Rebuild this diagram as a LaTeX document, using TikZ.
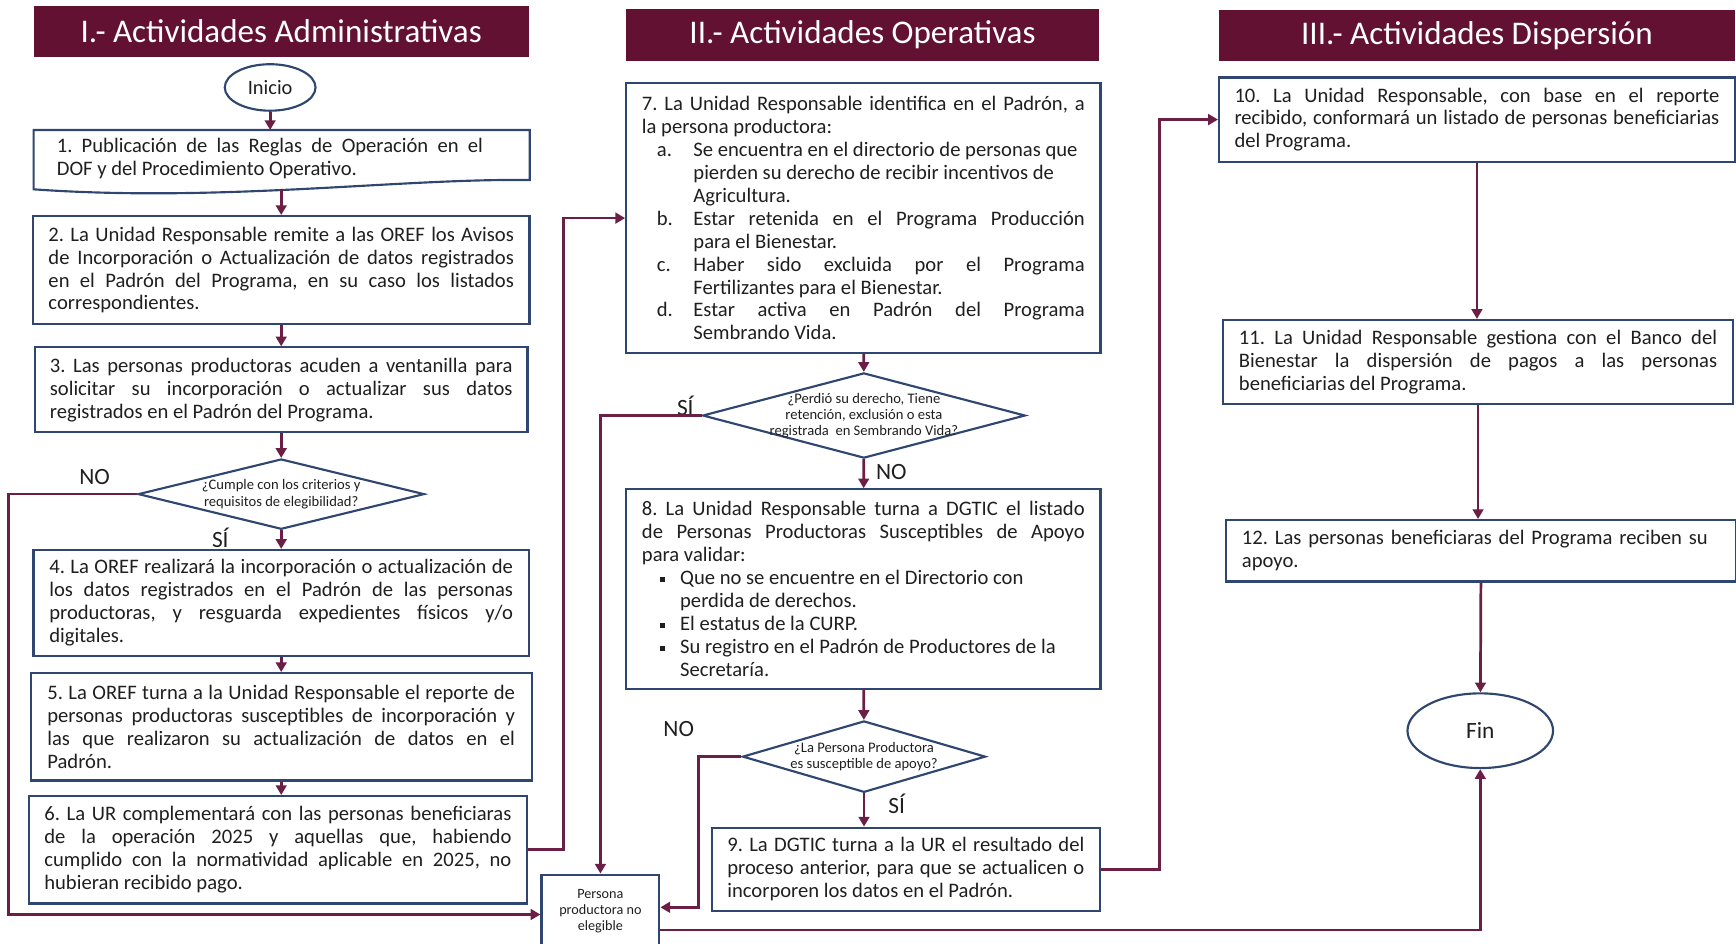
\documentclass[tikz,border=0pt]{standalone}
\usepackage{fontspec}
\setmainfont{Carlito}
\usetikzlibrary{arrows.meta,shapes.geometric}
\definecolor{guinda}{RGB}{98,17,50}
\definecolor{vino}{RGB}{107,31,69}
\definecolor{azul}{RGB}{47,71,112}
\newcommand{\inciso}[1]{\par\noindent\hangindent=0.93cm\hangafter=1\makebox[0.93cm][l]{\hspace{0.27cm}#1}}
\newcommand{\vineta}{\par\noindent\hangindent=0.69cm\hangafter=1\makebox[0.69cm][l]{\hspace{0.33cm}\rule[1.4pt]{2.6pt}{2.6pt}}}
\hyphenpenalty=10000
\frenchspacing
\begin{document}
\begin{tikzpicture}[x=0.02cm,y=-0.02cm,
    titulo/.style={fill=guinda,text=white,minimum height=0.93cm,font=\fontsize{17}{19}\selectfont},
    caja/.style={draw=azul,line width=1.1pt,align=justify,text=black!88,font=\fontsize{10.6}{11.8}\selectfont},
    decision/.style={draw=azul,line width=1.1pt,diamond,inner sep=0pt},
    dtexto/.style={align=center,text=black!88,font=\fontsize{7.5}{8.3}\selectfont},
    inifin/.style={draw=azul,line width=1.1pt,ellipse,inner sep=0pt,text=black!88},
    rotulo/.style={text=black!88,font=\fontsize{12}{14}\selectfont},
    flecha/.style={draw=vino,line width=1.4pt,-{Triangle[length=5pt,width=5.5pt]}}]
            \useasboundingbox(0,0)rectangle(1568,852);
            \node[titulo,minimum width=8.95cm](t1)at(254,28.5){I.- Actividades Administrativas};
            \node[titulo,minimum width=8.55cm](t2)at(779,31.7){II.- Actividades Operativas};
            \node[titulo,minimum width=9.32cm](t3)at(1334,32){III.- Actividades Dispersión};
            \node[inifin,minimum width=1.64cm,minimum height=0.84cm,font=\fontsize{10.5}{12}\selectfont](ini)at(244,79){Inicio};
            \node[caja,draw=none,text width=7.7cm](1)at(243.8,143){1. Publicación de las Reglas de Operación en el\linebreak DOF y del Procedimiento Operativo.};
            \draw[draw=azul,line width=1.1pt](30.4,117.4)--(478.5,117.4)--(478.5,162.6) .. controls (360,161) and (200,183) .. (30.4,171)--cycle;
            \coordinate(1n)at(244,117.4);
            \coordinate(1s)at(254,170.5);
            \node[caja,minimum width=8.97cm,minimum height=1.95cm,text width=8.41cm](2)at(254,243.9){2. La Unidad Responsable remite a las OREF los Avisos\linebreak de Incorporación o Actualización de datos registrados\linebreak en el Padrón del Programa, en su caso los listados\linebreak correspondientes.};
            \node[caja,minimum width=8.9cm,minimum height=1.53cm,text width=8.36cm](3)at(254,352){3. Las personas productoras acuden a ventanilla para\linebreak solicitar su incorporación o actualizar sus datos\linebreak registrados en el Padrón del Programa.};
            \node[decision,minimum width=5.17cm,minimum height=1.27cm,label={[dtexto]center:{¿Cumple con los criterios y\\requisitos de elegibilidad?}}](d1)at(254,446.3){};
            \node[caja,minimum width=8.95cm,minimum height=1.91cm,text width=8.38cm](4)at(254,544.5){4. La OREF realizará la incorporación o actualización de\linebreak los datos registrados en el Padrón de las personas\linebreak productoras, y resguarda expedientes físicos y/o\linebreak digitales.};
            \node[caja,minimum width=9.05cm,minimum height=1.94cm,text width=8.45cm](5)at(254,656.5){5. La OREF turna a la Unidad Responsable el reporte de\linebreak personas productoras susceptibles de incorporación y\linebreak las que realizaron su actualización de datos en el\linebreak Padrón.};
            \node[caja,minimum width=9.0cm,minimum height=1.94cm,text width=8.44cm](6)at(251,767.5){6. La UR complementará con las personas beneficiaras\linebreak de la operación 2025 y aquellas que, habiendo\linebreak cumplido con la normatividad aplicable en 2025, no\linebreak hubieran recibido pago.};
            \node[caja,minimum width=8.57cm,minimum height=4.87cm,text width=8.0cm](7)at(779.8,197){7. La Unidad Responsable identifica en el Padrón, a\linebreak la persona productora:
                \inciso{a.}Se encuentra en el directorio de personas que\newline pierden su derecho de recibir incentivos de\newline Agricultura.
                \inciso{b.}Estar retenida en el Programa Producción\linebreak para el Bienestar.
                \inciso{c.}Haber sido excluida por el Programa\linebreak Fertilizantes para el Bienestar.
                \inciso{d.}Estar activa en Padrón del Programa\linebreak Sembrando Vida.\par};
            \node[decision,minimum width=5.83cm,minimum height=1.54cm,label={[dtexto]center:{¿Perdió su derecho, Tiene\\retención, exclusión o esta\\registrada\ \ en Sembrando Vida?}}](d2)at(780.3,375.3){};
            \node[caja,minimum width=8.57cm,minimum height=3.61cm,text width=8.0cm](8)at(779.8,532.2){8. La Unidad Responsable turna a DGTIC el listado\linebreak de Personas Productoras Susceptibles de Apoyo\linebreak para validar:
                \vineta Que no se encuentre en el Directorio con\newline perdida de derechos.
                \vineta El estatus de la CURP.
                \vineta Su registro en el Padrón de Productores de la\newline Secretaría.\par};
            \node[decision,minimum width=4.39cm,minimum height=1.29cm,label={[dtexto]center:{¿La Persona Productora\\es susceptible de apoyo?}}](d3)at(780.4,683.4){};
            \node[caja,minimum width=7.0cm,minimum height=1.51cm,text width=6.45cm](9)at(818.2,785.3){9. La DGTIC turna a la UR el resultado del\linebreak proceso anterior, para que se actualicen o\linebreak incorporen los datos en el Padrón.};
            \node[draw=azul,line width=1.1pt,minimum width=2.13cm,minimum height=1.32cm,align=center,text=black!88,font=\fontsize{7.3}{8.3}\selectfont](per)at(542.3,823){Persona\\productora no\\elegible};
            \node[caja,minimum width=9.32cm,minimum height=1.52cm,text width=8.76cm](10)at(1334,108){10. La Unidad Responsable, con base en el reporte\linebreak recibido, conformará un listado de personas beneficiarias\linebreak del Programa.};
            \node[caja,minimum width=9.22cm,minimum height=1.52cm,text width=8.64cm](11)at(1335,327){11. La Unidad Responsable gestiona con el Banco del\linebreak Bienestar la dispersión de pagos a las personas\linebreak beneficiarias del Programa.};
            \node[caja,align=left,minimum width=9.21cm,minimum height=1.11cm,text width=8.64cm](12)at(1337.7,497.5){12. Las personas beneficiaras del Programa reciben su\newline apoyo.};
            \node[inifin,minimum width=2.63cm,minimum height=1.35cm,font=\fontsize{12}{14}\selectfont](fin)at(1337,660){Fin};
            \node[rotulo](no1)at(85.5,430.6){NO};
            \node[rotulo](si1)at(199,486){SÍ};
            \node[rotulo](si2)at(619,367){SÍ};
            \node[rotulo](no2)at(805,426){NO};
            \node[rotulo](no3)at(613,658){NO};
            \node[rotulo](si3)at(810,725.7){SÍ};
            \coordinate(iz)at(7.6,826);
            \coordinate(c6)at(509,480);
            \coordinate(c3)at(630.6,819.5);
            \coordinate(c9)at(1047.5,450);
            \coordinate(cp)at(596,840);
            \draw[flecha](ini)--(1n);
            \draw[flecha](1s)--(1s|-2.north);
            \draw[flecha](2)--(3);
            \draw[flecha](3)--(d1);
            \draw[flecha](d1)--(4);
            \draw[flecha](4)--(5);
            \draw[flecha](5.south)--(5.south|-6.north);
            \draw[flecha](d1.west)-|(iz)--(per.west|-iz);
            \draw[flecha](6.east)-|(c6)|-(7.west);
            \draw[flecha](7)--(d2);
            \draw[flecha](d2.west)-|(per.north);
            \draw[flecha](d2)--(8);
            \draw[flecha](8)--(d3);
            \draw[flecha](d3.south)--(d3.south|-9.north);
            \draw[flecha](d3.west)-|(c3)--(per.east|-c3);
            \draw[flecha](9.east)-|(c9)|-(10.west);
            \draw[flecha](10)--(10|-11.north);
            \draw[flecha](11)--(11|-12.north);
            \draw[flecha](12)--(fin);
            \draw[flecha](per.east|-cp)-|(fin.south);
        \end{tikzpicture}
\end{document}
